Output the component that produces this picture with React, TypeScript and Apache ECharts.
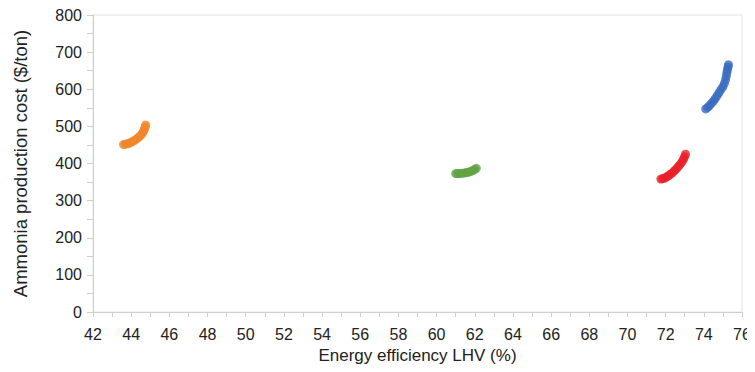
import React, { useEffect, useRef } from "react";
import * as echarts from "echarts";

const xTicks = { min: 42, max: 76, interval: 2 };
const yTicks = { min: 0, max: 800, interval: 100 };

const orange: [number, number][] = [
  [43.6, 451], [43.7, 452], [43.8, 453], [43.9, 455], [44.0, 457], [44.1, 460],
  [44.2, 463], [44.3, 467], [44.4, 471], [44.5, 476], [44.58, 481], [44.64, 486],
  [44.69, 492], [44.73, 498], [44.76, 504],
];
const green: [number, number][] = [
  [61.0, 373], [61.1, 373], [61.2, 373], [61.3, 374], [61.4, 374], [61.5, 375],
  [61.6, 376], [61.7, 377], [61.8, 379], [61.9, 381], [62.0, 384], [62.08, 387],
];
const red: [number, number][] = [
  [71.75, 358], [71.85, 359], [71.95, 361], [72.05, 364], [72.15, 367], [72.25, 371],
  [72.35, 375], [72.45, 380], [72.55, 385], [72.65, 391], [72.75, 397], [72.85, 404],
  [72.93, 411], [72.99, 418], [73.04, 425],
];
const blue: [number, number][] = [
  [74.1, 547], [74.2, 551], [74.3, 556], [74.4, 562], [74.5, 568], [74.6, 575],
  [74.7, 583], [74.8, 591], [74.9, 599], [75.0, 607], [75.08, 616], [75.14, 626],
  [75.18, 636], [75.21, 645], [75.24, 653], [75.27, 660], [75.29, 666],
];

const seriesDefs = [
  { name: "orange", data: orange, color: "#f0862a" },
  { name: "green", data: green, color: "#62a343" },
  { name: "red", data: red, color: "#e82128" },
  { name: "blue", data: blue, color: "#3a6bc1" },
];

export default function App() {
  const ref = useRef<HTMLDivElement>(null);
  useEffect(() => {
    if (!ref.current) return;
    const chart = echarts.init(ref.current, null, { renderer: "svg" });
    const font = "Liberation Sans, Arial, sans-serif";
    chart.setOption({
      animation: false,
      backgroundColor: "#ffffff",
      grid: {
        left: 93,
        right: 13,
        top: 15,
        bottom: 60,
        show: true,
        borderColor: "#e4e4e4",
        borderWidth: 1,
      },
      xAxis: {
        type: "value",
        min: xTicks.min,
        max: xTicks.max,
        interval: xTicks.interval,
        name: "Energy efficiency LHV (%)",
        nameLocation: "middle",
        nameGap: 35,
        nameTextStyle: { fontFamily: font, fontSize: 17, color: "#222" },
        axisLine: { show: true, lineStyle: { color: "#cfcfcf", width: 1 } },
        axisTick: { show: true, inside: false, length: 5, lineStyle: { color: "#cfcfcf" } },
        minorTick: { show: true, splitNumber: 2, length: 5, lineStyle: { color: "#cfcfcf" } },
        splitLine: { show: false },
        axisLabel: { fontFamily: font, fontSize: 16, color: "#222", margin: 14 },
      },
      yAxis: {
        type: "value",
        min: yTicks.min,
        max: yTicks.max,
        interval: yTicks.interval,
        name: "Ammonia production cost ($/ton)",
        nameLocation: "middle",
        nameGap: 63,
        nameRotate: 90,
        nameTextStyle: { fontFamily: font, fontSize: 18.5, color: "#222" },
        axisLine: { show: true, lineStyle: { color: "#cfcfcf", width: 1 } },
        axisTick: { show: true, inside: false, length: 6, lineStyle: { color: "#cfcfcf" } },
        minorTick: { show: true, splitNumber: 2, length: 6, lineStyle: { color: "#cfcfcf" } },
        splitLine: { show: false },
        axisLabel: { fontFamily: font, fontSize: 16, color: "#222", margin: 11 },
      },
      series: seriesDefs.map((s) => ({
        name: s.name,
        type: "scatter",
        data: s.data,
        symbol: "circle",
        symbolSize: 9,
        itemStyle: { color: s.color },
      })),
    });
    return () => chart.dispose();
  }, []);
  return <div ref={ref} style={{ width: 755, height: 372, margin: -8 }} />;
}
